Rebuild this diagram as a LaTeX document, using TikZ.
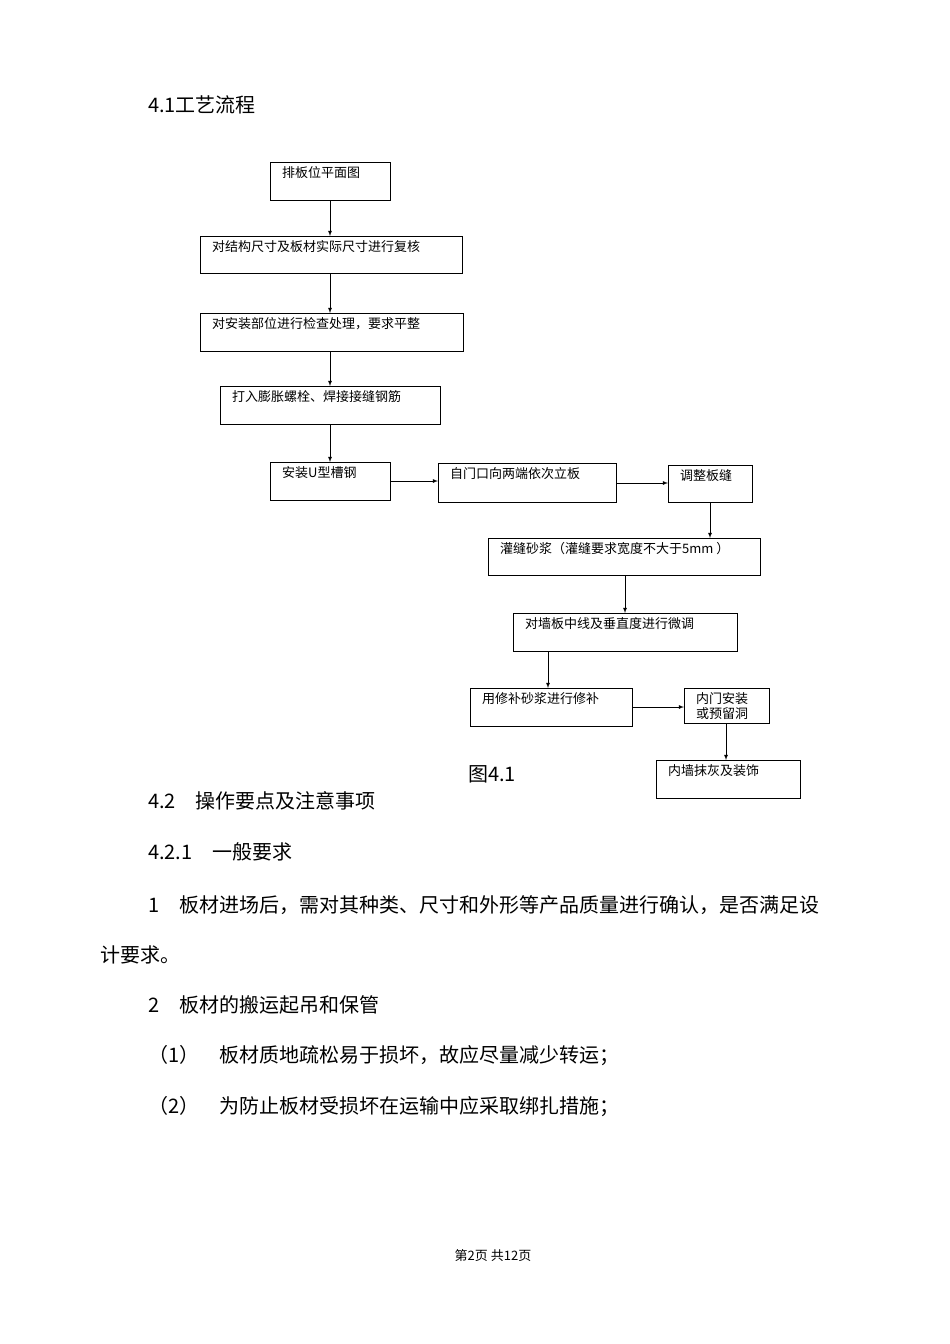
\documentclass[tikz,border=0pt]{standalone}
\usepackage{fontspec}
\setmainfont{Liberation Serif}
\newfontfamily\cjk{Noto Sans CJK SC}
\begin{document}
\begin{tikzpicture}[x=1pt,y=-1pt,
  bx/.style={draw,thick,minimum height=0pt},
  lab/.style={anchor=north west,inner sep=0pt,font=\cjk\fontsize{13}{15}\selectfont,align=left},
  body/.style={anchor=west,inner sep=0pt,font=\cjk\fontsize{20}{24}\selectfont},
  ar/.style={-latex,thick}]
\useasboundingbox[fill=white] (0,0) rectangle (950,1344);
\def\B#1#2#3#4#5#6{\draw[thick] (#2,#3) rectangle (#4,#5); \node[lab] (#1) at (#2+12,#3+4) {#6};
  \coordinate (#1t) at (#2,#3); \coordinate (#1b) at (#4,#5);}
\B{a}{270}{162}{390}{200}{排板位平面图}
\B{b}{200}{236}{462}{273}{对结构尺寸及板材实际尺寸进行复核}
\B{c}{200}{313}{463}{351}{对安装部位进行检查处理，要求平整}
\B{d}{220}{386}{440}{424}{打入膨胀螺栓、焊接接缝钢筋}
\B{e}{270}{462}{390}{500}{安装U型槽钢}
\B{f}{438}{463}{616}{502}{自门口向两端依次立板}
\B{g}{668}{465}{752}{502}{调整板缝}
\B{h}{488}{538}{760}{575}{灌缝砂浆（灌缝要求宽度不大于5mm ）}
\B{i}{513}{613}{737}{651}{对墙板中线及垂直度进行微调}
\B{j}{470}{688}{632}{726}{用修补砂浆进行修补}
\B{k}{684}{688}{769}{723}{内门安装\\或预留洞}
\B{l}{656}{760}{800}{798}{内墙抹灰及装饰}
\coordinate (p1) at (330,200); \coordinate (p2) at (330,236);
\draw[ar] (p1) -- (p2);
\coordinate (p3) at (330,273); \coordinate (p4) at (330,313); \draw[ar] (p3) -- (p4);
\coordinate (p5) at (330,351); \coordinate (p6) at (330,386); \draw[ar] (p5) -- (p6);
\coordinate (p7) at (330,424); \coordinate (p8) at (330,462); \draw[ar] (p7) -- (p8);
\coordinate (q1) at (390,481); \coordinate (q2) at (438,481); \draw[ar] (q1) -- (q2);
\coordinate (q3) at (616,483); \coordinate (q4) at (668,483); \draw[ar] (q3) -- (q4);
\coordinate (q5) at (710,502); \coordinate (q6) at (710,538); \draw[ar] (q5) -- (q6);
\coordinate (q7) at (625,575); \coordinate (q8) at (625,613); \draw[ar] (q7) -- (q8);
\coordinate (r1) at (548,651); \coordinate (r2) at (548,688); \draw[ar] (r1) -- (r2);
\coordinate (r3) at (632,707); \coordinate (r4) at (684,707); \draw[ar] (r3) -- (r4);
\coordinate (r5) at (726,723); \coordinate (r6) at (726,760); \draw[ar] (r5) -- (r6);
\node[body] (t1) at (148,105) {4.1工艺流程};
\node[body] (t2) at (468,774) {图4.1};
\node[body] (t3) at (148,801) {4.2\quad 操作要点及注意事项};
\node[body] (t4) at (148,852) {4.2.1\quad 一般要求};
\node[body] (t5) at (148,905) {1\quad 板材进场后，需对其种类、尺寸和外形等产品质量进行确认，是否满足设};
\node[body] (t6) at (100,955) {计要求。};
\node[body] (t7) at (148,1005) {2\quad 板材的搬运起吊和保管};
\node[body] (t8) at (148,1056) {（1）\quad 板材质地疏松易于损坏，故应尽量减少转运；};
\node[body] (t9) at (148,1107) {（2）\quad 为防止板材受损坏在运输中应采取绑扎措施；};
\node[inner sep=0pt,font=\cjk\fontsize{13}{15}\selectfont] (ft) at (493,1256) {第2页 共12页};
\end{tikzpicture}
\end{document}
